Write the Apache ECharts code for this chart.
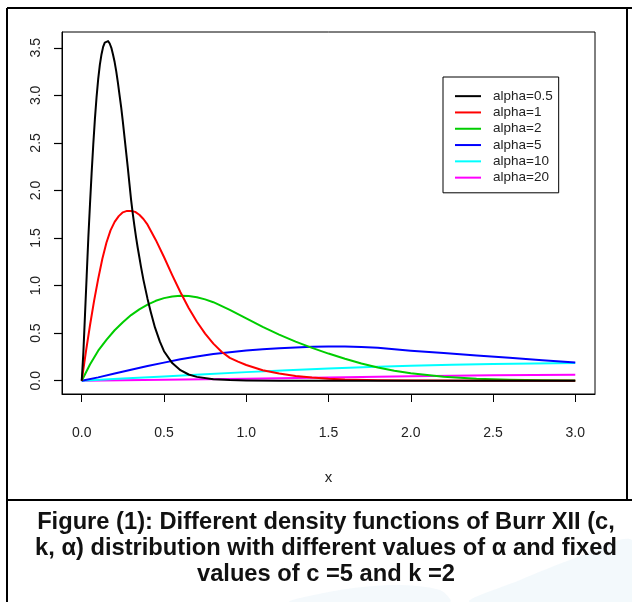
<!DOCTYPE html>
<html>
<head>
<meta charset="utf-8">
<script src="https://cdn.jsdelivr.net/npm/echarts@6/dist/echarts.min.js"></script>
<style>
  html, body { margin: 0; padding: 0; background: #fff; }
  #chart { width: 632px; height: 602px; }
</style>
</head>
<body>
<div id="chart"></div>
<script>
// Tick positions on both axes
const xTicks = [0, 0.5, 1, 1.5, 2, 2.5, 3];
const yTicks = [0, 0.5, 1, 1.5, 2, 2.5, 3, 3.5];

// Series labels and colours
const seriesNames = ['alpha=0.5', 'alpha=1', 'alpha=2', 'alpha=5', 'alpha=10', 'alpha=20'];
const seriesColors = ['#000000', '#ff0000', '#00cd00', '#0000ff', '#00ffff', '#ff00ff'];

// Density curves: x values and f(x) values for each alpha
const xA05 = [0, 0.01, 0.02, 0.03, 0.04, 0.05, 0.06, 0.07, 0.08, 0.09, 0.1, 0.11, 0.12, 0.13, 0.14, 0.15, 0.16, 0.17, 0.18, 0.19, 0.2, 0.21, 0.22, 0.23, 0.24, 0.25, 0.26, 0.27, 0.28, 0.29, 0.3, 0.31, 0.32, 0.33, 0.34, 0.35, 0.36, 0.375, 0.4, 0.42, 0.445, 0.475, 0.5, 0.55, 0.6, 0.65, 0.7, 0.8, 0.9, 1.0, 1.2, 1.5, 2.0, 3.0];
const yA05 = [0, 0.3, 0.7, 1.1, 1.5, 1.85, 2.18, 2.48, 2.75, 2.98, 3.17, 3.32, 3.43, 3.51, 3.555, 3.572, 3.57, 3.545, 3.5, 3.43, 3.35, 3.25, 3.13, 3.0, 2.87, 2.72, 2.56, 2.4, 2.24, 2.07, 1.9, 1.76, 1.63, 1.51, 1.4, 1.3, 1.2, 1.06, 0.86, 0.72, 0.56, 0.41, 0.31, 0.185, 0.11, 0.065, 0.04, 0.016, 0.006, 0.002, 0, 0, 0, 0];

const xA1 = [0, 0.025, 0.05, 0.075, 0.1, 0.125, 0.15, 0.175, 0.2, 0.225, 0.25, 0.275, 0.3, 0.325, 0.35, 0.375, 0.4, 0.45, 0.5, 0.55, 0.6, 0.65, 0.7, 0.75, 0.8, 0.85, 0.9, 0.95, 1.0, 1.1, 1.2, 1.3, 1.4, 1.5, 1.6, 1.8, 2.0, 2.5, 3.0];
const yA1 = [0, 0.3, 0.58, 0.84, 1.07, 1.28, 1.45, 1.58, 1.67, 1.73, 1.77, 1.785, 1.785, 1.775, 1.745, 1.7, 1.64, 1.48, 1.3, 1.11, 0.93, 0.765, 0.62, 0.495, 0.39, 0.305, 0.24, 0.2, 0.165, 0.11, 0.075, 0.05, 0.033, 0.021, 0.013, 0.005, 0.002, 0, 0];

const xA2 = [0, 0.05, 0.1, 0.15, 0.2, 0.25, 0.3, 0.35, 0.4, 0.45, 0.5, 0.55, 0.6, 0.65, 0.7, 0.75, 0.8, 0.9, 1.0, 1.1, 1.2, 1.3, 1.4, 1.5, 1.6, 1.7, 1.8, 1.9, 2.0, 2.2, 2.4, 2.6, 2.8, 3.0];
const yA2 = [0, 0.17, 0.315, 0.43, 0.53, 0.615, 0.69, 0.75, 0.8, 0.84, 0.868, 0.886, 0.893, 0.89, 0.878, 0.855, 0.825, 0.745, 0.655, 0.565, 0.485, 0.41, 0.345, 0.285, 0.23, 0.18, 0.138, 0.104, 0.077, 0.041, 0.021, 0.011, 0.005, 0.002];

const xA5 = [0, 0.1, 0.2, 0.3, 0.4, 0.5, 0.6, 0.7, 0.8, 0.9, 1.0, 1.1, 1.2, 1.3, 1.4, 1.5, 1.6, 1.7, 1.8, 1.9, 2.0, 2.2, 2.4, 2.6, 2.8, 3.0];
const yA5 = [0, 0.035, 0.075, 0.115, 0.155, 0.19, 0.225, 0.255, 0.28, 0.3, 0.317, 0.33, 0.34, 0.35, 0.357, 0.36, 0.36, 0.355, 0.345, 0.33, 0.315, 0.29, 0.265, 0.24, 0.215, 0.19];

const xA10 = [0, 0.25, 0.5, 0.75, 1.0, 1.25, 1.5, 1.75, 2.0, 2.25, 2.5, 2.75, 3.0];
const yA10 = [0, 0.022, 0.045, 0.068, 0.09, 0.11, 0.128, 0.145, 0.158, 0.167, 0.175, 0.181, 0.186];

const xA20 = [0, 0.5, 1.0, 1.5, 2.0, 2.5, 3.0];
const yA20 = [0, 0.01, 0.021, 0.034, 0.046, 0.056, 0.063];

const curveX = [xA05, xA1, xA2, xA5, xA10, xA20];
const curveY = [yA05, yA1, yA2, yA5, yA10, yA20];

// Caption under the plot
const captionLines = [
  'Figure (1): Different density functions of Burr XII (c,',
  'k, \u03b1) distribution with different values of \u03b1 and fixed',
  'values of c =5 and k =2'
];

const labelFont = "'Liberation Sans', Arial, sans-serif";

const chart = echarts.init(document.getElementById('chart'), null, { renderer: 'canvas' });

const series = seriesNames.map((name, i) => ({
  name: name,
  type: 'line',
  data: curveX[i].map((x, j) => [x, curveY[i][j]]),
  symbol: 'none',
  smooth: false,
  lineStyle: { color: seriesColors[i], width: 2, join: 'round' },
  itemStyle: { color: seriesColors[i] },
  z: 10 - i
}));

const frame = '#000';
const graphics = [
  // faint page watermark behind the caption
  {
    type: 'polygon', silent: true, z: -10,
    shape: { points: [[470, 602], [520, 580], [575, 558], [632, 540], [632, 602]], smooth: 0.3 },
    style: { fill: 'rgba(200,226,242,0.22)' }
  },
  {
    type: 'polygon', silent: true, z: -10,
    shape: { points: [[290, 602], [340, 590], [395, 585], [440, 590], [450, 602]], smooth: 0.3 },
    style: { fill: 'rgba(200,226,242,0.2)' }
  },
  // outer figure frame and separator above the caption
  { type: 'line', shape: { x1: 7, y1: 8, x2: 632, y2: 8 }, style: { stroke: frame, lineWidth: 2 } },
  { type: 'line', shape: { x1: 7, y1: 8, x2: 7, y2: 602 }, style: { stroke: frame, lineWidth: 2 } },
  { type: 'line', shape: { x1: 627, y1: 8, x2: 627, y2: 500 }, style: { stroke: frame, lineWidth: 2 } },
  { type: 'line', shape: { x1: 7, y1: 500, x2: 632, y2: 500 }, style: { stroke: frame, lineWidth: 2 } }
];
captionLines.forEach((t, i) => {
  graphics.push({
    type: 'text',
    x: 326,
    y: 522 + i * 26.2,
    style: {
      text: t,
      fill: '#111',
      font: "bold 23.7px 'Liberation Sans', Arial, sans-serif",
      textAlign: 'center',
      textVerticalAlign: 'middle'
    }
  });
});

chart.setOption({
  animation: false,
  backgroundColor: '#fff',
  grid: {
    left: 62, top: 32, width: 533, height: 362,
    show: true, borderColor: '#000', borderWidth: 1
  },
  xAxis: {
    type: 'value',
    min: -0.12, max: 3.12,
    name: 'x',
    nameLocation: 'middle',
    nameGap: 76,
    nameTextStyle: { color: '#222', fontSize: 15, fontFamily: labelFont },
    axisLine: { show: true, onZero: false, lineStyle: { color: '#000', width: 1 } },
    splitLine: { show: false },
    axisTick: { show: true, length: 8, customValues: xTicks, lineStyle: { color: '#000', width: 1 } },
    axisLabel: {
      customValues: xTicks,
      formatter: v => v.toFixed(1),
      color: '#222', fontSize: 14, fontFamily: labelFont,
      margin: 32
    }
  },
  yAxis: {
    type: 'value',
    min: -0.14, max: 3.666,
    axisLine: { show: true, onZero: false, lineStyle: { color: '#000', width: 1 } },
    splitLine: { show: false },
    axisTick: { show: true, length: 8, customValues: yTicks, lineStyle: { color: '#000', width: 1.2 } },
    axisLabel: {
      customValues: yTicks,
      formatter: v => v.toFixed(1),
      rotate: 90,
      color: '#222', fontSize: 14, fontFamily: labelFont,
      margin: 19
    }
  },
  legend: {
    data: seriesNames,
    orient: 'vertical',
    left: 443, top: 77,
    icon: 'rect',
    itemWidth: 26, itemHeight: 2,
    itemGap: 0,
    padding: [11, 6, 7, 12],
    borderColor: '#000', borderWidth: 1,
    textStyle: { color: '#222', fontSize: 13.5, fontFamily: labelFont, lineHeight: 16.3, padding: [0, 0, 0, 7] },
    selectedMode: false
  },
  series: series,
  graphic: graphics
});
</script>
</body>
</html>
